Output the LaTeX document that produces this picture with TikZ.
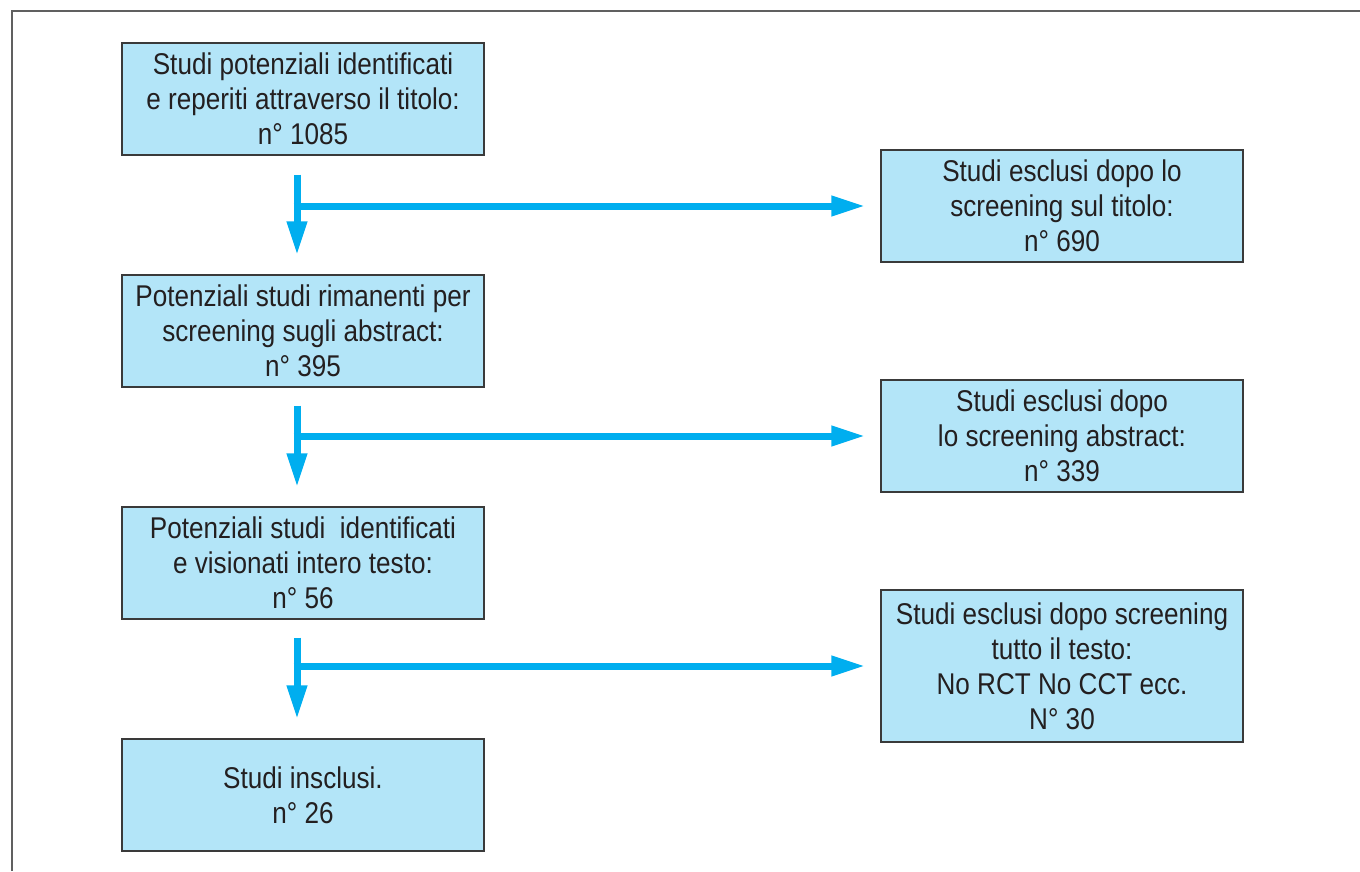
\documentclass[tikz,border=0pt]{standalone}
\usepackage{fontspec}
\setmainfont{Liberation Sans}[FakeStretch=0.87]
\usetikzlibrary{arrows.meta}
\definecolor{boxfill}{HTML}{B3E5F8}
\definecolor{boxline}{HTML}{3A3A3A}
\definecolor{arrcol}{HTML}{00AEEF}
\definecolor{txt}{HTML}{231F20}
\definecolor{framecol}{HTML}{606060}
\tikzset{
  box/.style={draw=boxline, line width=1.3pt, fill=boxfill, minimum width=362pt, minimum height=112pt,
    align=center, inner sep=0pt, text=txt, font=\fontsize{30}{35}\selectfont},
  arr/.style={draw=arrcol, line width=7pt, -{Triangle[length=34pt,width=19pt]}},
}
\begin{document}
\begin{tikzpicture}[x=1pt,y=-1pt]
\useasboundingbox (0,0) rectangle (1360,871);
\draw[framecol, line width=1.5pt] (12,871) -- (12,11) -- (1360,11);
% left column
\node[box] (b1) at (303,99) {Studi potenziali identificati\\e reperiti attraverso il titolo:\\n° 1085};
\node[box] (b2) at (303,331) {Potenziali studi rimanenti per\\screening sugli abstract:\\n° 395};
\node[box] (b3) at (303,563) {Potenziali studi \ identificati\\e visionati intero testo:\\n° 56};
\node[box] (b4) at (303,795) {Studi insclusi.\\n° 26};
% right column
\node[box] (r1) at (1062,206) {Studi esclusi dopo lo\\screening sul titolo:\\n° 690};
\node[box] (r2) at (1062,436) {Studi esclusi dopo\\lo screening abstract:\\n° 339};
\node[box, minimum height=152pt] (r3) at (1062,666) {Studi esclusi dopo screening\\tutto il testo:\\No RCT No CCT ecc.\\N° 30};
% connectors
\coordinate (v1) at (297,206);
\coordinate (v2) at (297,436);
\coordinate (v3) at (297,666);
\draw[arr] ([xshift=-6pt,yshift=-19pt]b1.south) -- ([xshift=-6pt,yshift=19pt]b2.north);
\draw[arr] ([xshift=-6pt,yshift=-18pt]b2.south) -- ([xshift=-6pt,yshift=19pt]b3.north);
\draw[arr] ([xshift=-6pt,yshift=-18pt]b3.south) -- ([xshift=-6pt,yshift=19pt]b4.north);
\draw[arr] ([xshift=-3.5pt]v1) -- ([xshift=-15pt]r1.west);
\draw[arr] ([xshift=-3.5pt]v2) -- ([xshift=-15pt]r2.west);
\draw[arr] ([xshift=-3.5pt]v3) -- ([xshift=-15pt]r3.west);
\end{tikzpicture}
\end{document}
